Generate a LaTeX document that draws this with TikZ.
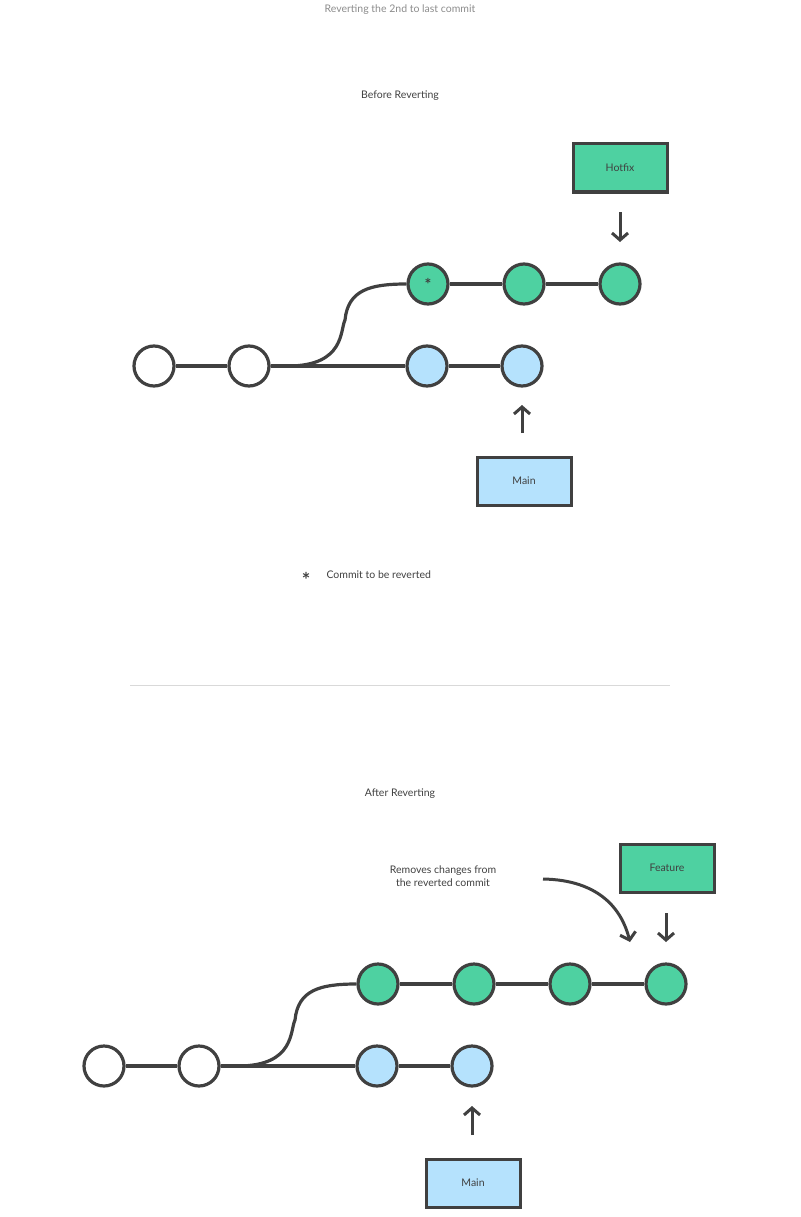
\documentclass[tikz,border=0pt]{standalone}
\usepackage{fontspec}
\setmainfont{Lato}
\usetikzlibrary{arrows.meta}
\definecolor{gr}{HTML}{4ED1A1}
\definecolor{bl}{HTML}{B5E2FD}
\definecolor{dk}{HTML}{404040}
\begin{document}
\begin{tikzpicture}[x=1pt,y=-1pt,
  commit/.style={circle,draw=dk,line width=3.2pt,minimum size=40pt,inner sep=0pt},
  cw/.style={commit,fill=white},
  cg/.style={commit,fill=gr},
  cb/.style={commit,fill=bl},
  lbl/.style={draw=dk,line width=3pt,minimum width=94pt,minimum height=48pt,font=\fontsize{10.5}{12}\selectfont,text=dk},
  ln/.style={draw=dk,line width=3.2pt},
  arr/.style={draw=dk,line width=3pt,-{Straight Barb[length=7pt,width=16pt,line width=3pt]}},
  txt/.style={text=dk,font=\fontsize{10.5}{13}\selectfont}]
\useasboundingbox (0,0) rectangle (800,1217);
\node[text=black!45,font=\fontsize{10.5}{12}\selectfont] (title) at (400,10) {Reverting the 2nd to last commit};
\node[txt] (t1) at (400,96) {Before Reverting};
% top
\node[cw] (a1) at (154,366) {};
\node[cw] (a2) at (249,366) {};
\node[cb] (a3) at (427,366) {};
\node[cb] (a4) at (522,366) {};
\node[cg] (g1) at (428,284) {\fontsize{16}{16}\selectfont\textbf{\textcolor{dk}{*}}};
\node[cg] (g2) at (524,284) {};
\node[cg] (g3) at (620,284) {};
\draw[ln] (a1)--(a2) (a2)--(a3) (a3)--(a4) (g1)--(g2) (g2)--(g3);
\draw[ln] (a2.east) -- (288,366) .. controls (345,366) and (340,330) .. (345,320) .. controls (348,290) and (370,284) .. (g1.west);
\node[lbl,fill=gr] (hot) at (620,168) {Hotfix};
\coordinate (h1) at (620,212); \coordinate (h2) at (620,242);
\draw[arr] (h1)--(h2);
\node[lbl,fill=bl] (m1) at (524,481) {Main};
\coordinate (m1a) at (522,433); \coordinate (m1b) at (522,405);
\draw[arr] (m1a)--(m1b);
\node[text=dk,font=\fontsize{20}{20}\selectfont\bfseries] (ast) at (306,580) {*};
\node[txt,anchor=west] (leg) at (323,575) {Commit to be reverted};
\coordinate (s1) at (130,685); \coordinate (s2) at (670,685);
\draw[black!15,line width=1pt] (s1)--(s2);
% bottom
\node[txt] (t2) at (400,794) {After Reverting};
\node[cw] (b1) at (104,1066) {};
\node[cw] (b2) at (199,1066) {};
\node[cb] (b3) at (377,1066) {};
\node[cb] (b4) at (472,1066) {};
\node[cg] (h1n) at (378,984) {};
\node[cg] (h2n) at (474,984) {};
\node[cg] (h3n) at (570,984) {};
\node[cg] (h4n) at (666,984) {};
\draw[ln] (b1)--(b2) (b2)--(b3) (b3)--(b4) (h1n)--(h2n) (h2n)--(h3n) (h3n)--(h4n);
\draw[ln] (b2.east) -- (238,1066) .. controls (295,1066) and (290,1030) .. (295,1020) .. controls (298,990) and (320,984) .. (h1n.west);
\node[lbl,fill=gr] (feat) at (667,868) {Feature};
\coordinate (f1) at (666,913); \coordinate (f2) at (666,942);
\draw[arr] (f1)--(f2);
\node[txt,align=center] (rem) at (443,876) {Removes changes from\\the reverted commit};
\coordinate (c1) at (543,879); \coordinate (c2) at (630,942);
\draw[arr] (c1) .. controls (600,880) and (622,910) .. (c2);
\node[lbl,fill=bl] (m2) at (473,1183) {Main};
\coordinate (m2a) at (472,1135); \coordinate (m2b) at (472,1106);
\draw[arr] (m2a)--(m2b);
\end{tikzpicture}
\end{document}
